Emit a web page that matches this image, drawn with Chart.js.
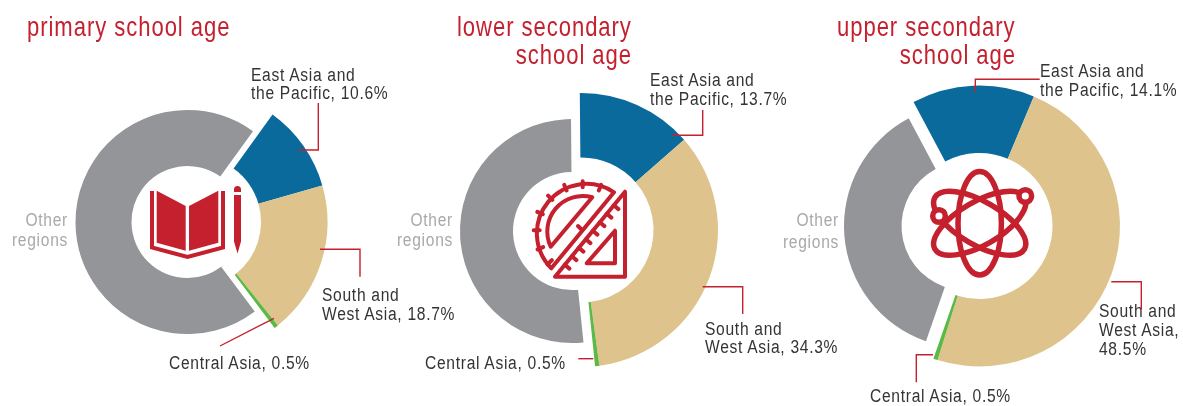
<!DOCTYPE html>
<html><head><meta charset="utf-8">
<script src="https://cdn.jsdelivr.net/npm/chart.js@4"></script>
<style>
html,body{margin:0;padding:0;background:#fff;width:1183px;height:406px;overflow:hidden}
canvas{position:absolute;top:0}
svg{position:absolute;left:0;top:0;z-index:2}
.t{position:absolute;white-space:pre;font-family:"Liberation Sans",sans-serif;line-height:1;transform-origin:0 50%}
.l{font-size:18px;color:#333436;letter-spacing:.8px;transform:translateY(-50%) scaleX(.867)}
.o{font-size:18px;color:#a7a9ac;letter-spacing:.8px;transform-origin:100% 50%;transform:translate(-100%,-50%) scaleX(.867)}
.h{font-size:28px;color:#c5202e;letter-spacing:1.2px;transform:translateY(-50%) scaleX(.788)}
.r{transform-origin:100% 50%;transform:translate(-100%,-50%) scaleX(.788)}
</style></head><body>
<script>
const categories = ["East Asia and the Pacific","South and West Asia","Central Asia","Other regions"];
const primaryValues = [10.6,18.7,0.5,70.2];
const lowerValues   = [13.7,34.3,0.5,51.5];
const upperValues   = [14.1,48.5,0.5,36.9];
const colours = ["#0a6a9c","#dec48c","#5cb946","#939598"];

// ring geometry, page pixels: [cx, cy, inner radius, outer radius]
const panels = [
 {name:"primary school age", values:primaryValues, left:0,   width:394, rotation:35.8,  ring:[195,222,66,132.5], other:[187.5,222,56,112]},
 {name:"lower secondary school age", values:lowerValues, left:394, width:394, rotation:-0.5, ring:[581,230,72.5,137], other:[572,231,59,112]},
 {name:"upper secondary school age", values:upperValues, left:788, width:395, rotation:-28, ring:[979.5,226,73,140.5], other:[966,226,64.5,122]}
];

const labels = [
 ["h",27,27,"primary school age"],
 ["h",457,27,"lower secondary"],["h r",632,55,"school age"],
 ["h",837,27,"upper secondary"],["h r",1016,55,"school age"],
 ["l",251,75,"East Asia and"],["l",251,93,"the Pacific, 10.6%"],
 ["l",322,295,"South and"],["l",322,314,"West Asia, 18.7%"],
 ["l",169,363,"Central Asia, 0.5%"],
 ["o",68,220,"Other"],["o",68,240,"regions"],
 ["l",650,80,"East Asia and"],["l",650,99,"the Pacific, 13.7%"],
 ["l",705,329,"South and"],["l",705,347,"West Asia, 34.3%"],
 ["l",425,363,"Central Asia, 0.5%"],
 ["o",453,220,"Other"],["o",453,240,"regions"],
 ["l",1040,71,"East Asia and"],["l",1040,90,"the Pacific, 14.1%"],
 ["l",1099,311,"South and"],["l",1099,330,"West Asia,"],["l",1099,349,"48.5%"],
 ["l",870,396,"Central Asia, 0.5%"],
 ["o",839,220,"Other"],["o",839,242,"regions"]
];

const leaders = [
 "M318.3 103V150H299","M320 249.3H360V276.7","M274 318.3L220 346",
 "M702.7 110V135.3H672","M702.7 286.7H742.7V314","M578.3 358.7H593.3",
 "M975.3 92.3V79.3H1039.7","M1111.3 281.7H1141.3V309.3","M933 354.7H916.3V382.3"
];

const ringPlugin = {
 id:"ringGeometry",
 afterDatasetsUpdate(chart){
  const p = chart.options.plugins.ringGeometry.panel;
  chart.getDatasetMeta(0).data.forEach((arc,i)=>{
   const g = i===3 ? p.other : p.ring;
   arc.x = g[0]-p.left; arc.y = g[1];
   arc.innerRadius = g[2]; arc.outerRadius = g[3];
  });
 }
};

panels.forEach(p=>{
 const c = document.createElement("canvas");
 c.width = p.width; c.height = 406;
 c.style.left = p.left+"px"; c.style.width = p.width+"px"; c.style.height = "406px";
 document.body.appendChild(c);
 new Chart(c,{
  type:"doughnut",
  data:{labels:categories,datasets:[{data:p.values,backgroundColor:colours,borderWidth:0}]},
  options:{responsive:false,animation:false,rotation:p.rotation,events:[],
   plugins:{legend:{display:false},tooltip:{enabled:false},title:{display:false},ringGeometry:{panel:p}}},
  plugins:[ringPlugin]
 });
});

labels.forEach(([k,x,y,s])=>{
 const d=document.createElement("div");
 d.className="t "+k; d.style.left=x+"px"; d.style.top=y+"px"; d.textContent=s;
 document.body.appendChild(d);
});

// hypotenuse ticks for the set square
let setTicks="";
[.16,.26,.36,.46,.56,.66,.76,.86].forEach(t=>{
 const x=625-70*t,y=191.7+85*t;
 setTicks+=`M${x.toFixed(1)} ${y.toFixed(1)}l${(.772*6).toFixed(1)} ${(.636*6).toFixed(1)}`;
});
// protractor rim ticks
let protTicks="";
const pc=[582.7,230.3];
[-68,-90,-112,-135,-158,-180,-203,-224].forEach(a=>{
 const r=a*Math.PI/180, ux=Math.cos(r), uy=Math.sin(r);
 protTicks+=`M${(pc[0]+ux*49).toFixed(1)} ${(pc[1]+uy*49).toFixed(1)}L${(pc[0]+ux*43).toFixed(1)} ${(pc[1]+uy*43).toFixed(1)}`;
});
const R="#c5202e";
const art=document.createElementNS("http://www.w3.org/2000/svg","svg");
art.setAttribute("width","1183");art.setAttribute("height","406");
art.innerHTML=`
<g fill="none" stroke="${R}" stroke-width="1.4">${leaders.map(d=>`<path d="${d}"/>`).join("")}</g>
<g fill="${R}">
 <path d="M156.7 190.7L185.7 206V250.7L156.7 242.7Z"/>
 <path d="M189 206L218.3 190.7V242.7L189 250.7Z"/>
 <path d="M234 192v-2.5a3.5 3.5 0 0 1 7 0v2.5ZM234 195h7v46.5l-3.5 12l-3.5 -12Z"/>
</g>
<path d="M152 191V247.5L187.5 257L223 247.5V191" fill="none" stroke="${R}" stroke-width="4"/>
<g fill="none" stroke="${R}" stroke-width="4" stroke-linejoin="round" stroke-linecap="round">
 <path d="M614 192.3A49.5 49.5 0 0 0 551.3 268.3Z"/>
 <path d="M592.3 197.3A35.5 35.5 0 0 0 550.7 246.7Z"/>
 <path d="M625 191.7V276.7H555Z"/>
 <path d="M615 230.7V263.3H586.7Z"/>
 <path d="${protTicks}"/><path d="${setTicks}"/><path d="M578 226l4 4"/>
</g>
<g fill="none" stroke="${R}" stroke-width="5.5">
 <ellipse cx="979.7" cy="223.3" rx="21.7" ry="51.7"/>
 <ellipse cx="979.7" cy="223.3" rx="21.7" ry="51.7" transform="rotate(60 979.7 223.3)"/>
 <ellipse cx="979.7" cy="223.3" rx="21.7" ry="51.7" transform="rotate(-60 979.7 223.3)"/>
 <circle cx="1025.3" cy="196" r="6.3" fill="#fff"/>
 <circle cx="939" cy="216" r="6.3" fill="#fff"/>
</g>`;
document.body.appendChild(art);
</script>
</body></html>
